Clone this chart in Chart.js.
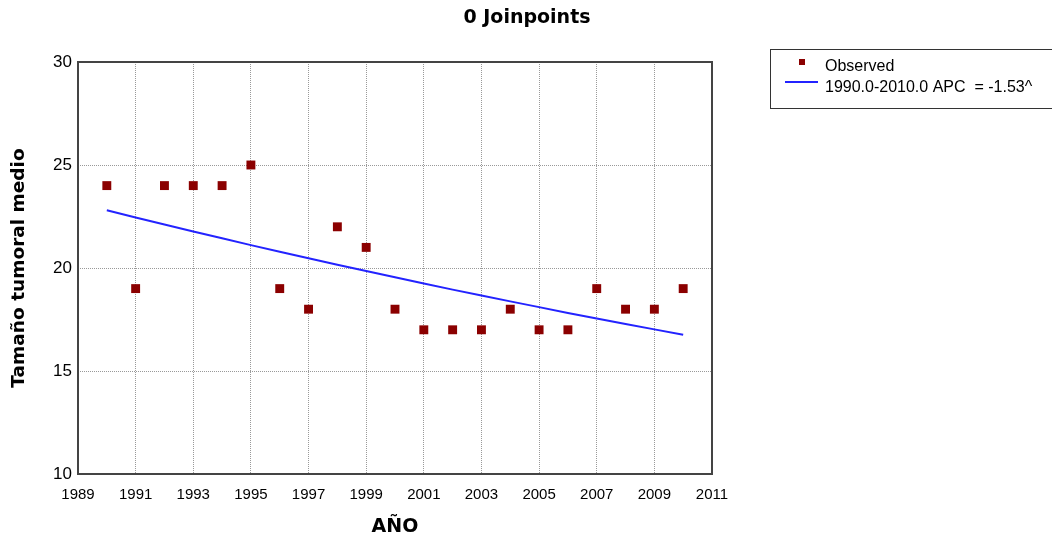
<!DOCTYPE html>
<html>
<head>
<meta charset="utf-8">
<script src="https://cdn.jsdelivr.net/npm/chart.js@4"></script>
<style>
  html, body { margin: 0; padding: 0; background: #fff; }
  #wrap { width: 1052px; height: 538px; position: relative; }
</style>
</head>
<body>
<div id="wrap"><canvas id="jpChart" width="1052" height="538"></canvas></div>
<script>
// data
var years = [1990, 1991, 1992, 1993, 1994, 1995, 1996, 1997, 1998, 1999, 2000,
             2001, 2002, 2003, 2004, 2005, 2006, 2007, 2008, 2009, 2010];
var observed = [24, 19, 24, 24, 24, 25, 19, 18, 22, 21, 18,
                17, 17, 17, 18, 17, 17, 19, 18, 18, 19];
var modeled = [22.80, 22.45, 22.11, 21.77, 21.44, 21.11, 20.79, 20.47, 20.16, 19.85, 19.55,
               19.25, 18.95, 18.66, 18.38, 18.10, 17.82, 17.55, 17.28, 17.02, 16.76];
var chartTitle = '0 Joinpoints';
var seriesNames = ['Observed', '1990.0-2010.0 APC  = -1.53^'];

var obsPoints = years.map(function (y, i) { return { x: y, y: observed[i] }; });
var fitPoints = years.map(function (y, i) { return { x: y, y: modeled[i] }; });

var markerColor = '#8b0000';
var lineColor = '#2323ff';

// title, frame and legend box drawn on top
var decor = {
  id: 'decor',
  afterDraw: function (chart) {
    var ctx = chart.ctx;
    var a = chart.chartArea;
    ctx.save();
    ctx.strokeStyle = '#444';
    ctx.lineWidth = 2;
    ctx.strokeRect(a.left, a.top, a.right - a.left, a.bottom - a.top);

    ctx.fillStyle = '#000';
    ctx.font = 'bold 19px "DejaVu Sans"';
    ctx.textAlign = 'center';
    ctx.textBaseline = 'middle';
    ctx.fillText(chartTitle, 527, 18);

    // legend
    ctx.lineWidth = 1;
    ctx.strokeStyle = '#333';
    ctx.strokeRect(770.5, 49.5, 300, 59);
    ctx.fillStyle = markerColor;
    ctx.fillRect(799, 59, 6, 6);
    ctx.strokeStyle = lineColor;
    ctx.lineWidth = 2;
    ctx.beginPath();
    ctx.moveTo(785, 82);
    ctx.lineTo(818, 82);
    ctx.stroke();
    ctx.fillStyle = '#000';
    ctx.font = '16px "Liberation Sans"';
    ctx.textAlign = 'left';
    ctx.fillText(seriesNames[0], 825, 67);
    ctx.fillText(seriesNames[1], 825, 88);
    ctx.restore();
  }
};

var canvas = document.getElementById('jpChart');
var ctx = canvas.getContext('2d');
window.jpChartInstance = new Chart(ctx, {
  type: 'scatter',
  data: {
    datasets: [{
      label: seriesNames[0],
      data: obsPoints,
      pointStyle: 'rect',
      pointRadius: 6.3,
      pointHoverRadius: 6.3,
      pointBorderWidth: 0,
      backgroundColor: markerColor,
      borderColor: markerColor,
      showLine: false,
      order: 1
    }, {
      label: seriesNames[1],
      data: fitPoints,
      showLine: true,
      borderColor: lineColor,
      borderWidth: 2,
      pointRadius: 0,
      tension: 0,
      order: 2
    }]
  },
  options: {
    responsive: false,
    animation: false,
    layout: { padding: { left: 0, right: 340, top: 62, bottom: 0 } },
    plugins: {
      legend: { display: false },
      title: { display: false },
      tooltip: { enabled: false }
    },
    scales: {
      x: {
        type: 'linear',
        min: 1989,
        max: 2011,
        afterFit: function (s) { s.height = 64; },
        ticks: {
          stepSize: 2,
          padding: 12,
          color: '#000',
          font: { family: 'Liberation Sans', size: 15 },
          callback: function (v) { return String(v); }
        },
        grid: { color: '#999', lineWidth: 1, drawTicks: false },
        border: { display: false, dash: [1, 1] },
        title: {
          display: true,
          text: 'AÑO',
          color: '#000',
          padding: { top: 0, bottom: 0 },
          font: { family: 'DejaVu Sans', size: 19, weight: 'bold' }
        }
      },
      y: {
        min: 10,
        max: 30,
        afterFit: function (s) { s.width = 78; },
        ticks: {
          stepSize: 5,
          padding: 6,
          color: '#000',
          font: { family: 'Liberation Sans', size: 17 }
        },
        grid: { color: '#999', lineWidth: 1, drawTicks: false },
        border: { display: false, dash: [1, 1] },
        title: {
          display: true,
          text: 'Tamaño tumoral medio',
          color: '#000',
          padding: { top: 8, bottom: 0 },
          font: { family: 'DejaVu Sans', size: 18.5, weight: 'bold' }
        }
      }
    }
  },
  plugins: [decor]
});
</script>
</body>
</html>
